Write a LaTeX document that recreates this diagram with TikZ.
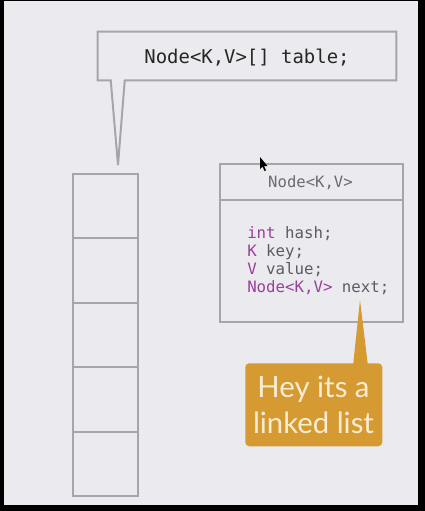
\documentclass[tikz,border=0pt]{standalone}
\usepackage{fontspec}
\setmonofont{DejaVu Sans Mono}
\newfontfamily\callfont{Lato}
\usetikzlibrary{calc}
\definecolor{bg}{HTML}{EBEBEF}
\definecolor{edge}{HTML}{A5A5AA}
\definecolor{kw}{HTML}{9B3F9B}
\definecolor{code}{HTML}{5C5C60}
\definecolor{ochre}{HTML}{D69A32}
\definecolor{cream}{HTML}{FAEDD2}
\tikzset{
  boxline/.style={draw=edge, line width=1.5pt},
  cell/.style={boxline, fill=bg, minimum width=65*0.75pt, minimum height=64.4*0.75pt, inner sep=0pt, anchor=north west},
  codeline/.style={anchor=base west, inner sep=0pt, font=\ttfamily\fontsize{11.8}{13}\selectfont, text=code},
}
\begin{document}
\begin{tikzpicture}[x=0.75pt,y=-0.75pt]
\useasboundingbox (0,0) rectangle (425,511);
\fill[black] (0,0) rectangle (425,511);
\fill[bg] (4,1) rectangle (418,505);
% top callout
\node[inner sep=0pt, minimum width=298*0.75pt, minimum height=48*0.75pt] (tbl) at (247,56) {};
\coordinate (tip) at (118,165);
\draw[boxline, fill=bg, line join=miter] (tbl.north west) -- (tbl.north east) -- (tbl.south east)
  -- ($(tbl.south west)+(27,0)$) -- (tip) -- ($(tbl.south west)+(13,0)$) -- (tbl.south west) -- cycle;
\node[anchor=base, inner sep=0pt, font=\ttfamily\fontsize{14.2}{16}\selectfont, text=black!85] (tbltext) at (247,63) {Node<K,V>[] table;};
% array
\node[cell] (c1) at (72,173) {};
\node[cell] (c2) at (72,237.4) {};
\node[cell] (c3) at (72,301.8) {};
\node[cell] (c4) at (72,366.2) {};
\node[cell] (c5) at (72,430.6) {};
% Node<K,V> class box
\node[boxline, fill=bg, inner sep=0pt, minimum width=183*0.75pt, minimum height=158*0.75pt, anchor=north west] (cls) at (219,163) {};
\coordinate (divl) at (219,200);
\coordinate (divr) at (402,200);
\draw[boxline] (divl) -- (divr);
\node[anchor=base, inner sep=0pt, font=\ttfamily\fontsize{11.7}{13}\selectfont, text=code!90] (clstitle) at (310.5,187) {Node<K,V>};
\node[codeline] (l1) at (247,238) {\textcolor{kw}{int} hash;};
\node[codeline] (l2) at (247,256) {\textcolor{kw}{K} key;};
\node[codeline] (l3) at (247,274) {\textcolor{kw}{V} value;};
\node[codeline] (l4) at (247,292) {\textcolor{kw}{Node<K,V>} next;};
% orange callout
\coordinate (otip) at (360,300);
\fill[ochre] (353,366) -- (otip) -- (368,366) -- cycle;
\node[fill=ochre, rounded corners=4*0.75pt, inner sep=0pt, minimum width=137*0.75pt, minimum height=83*0.75pt, anchor=north west] (hey) at (245,363) {};
\node[anchor=base, inner sep=0pt, font=\callfont\fontsize{22}{26}\selectfont, text=cream] (hey1) at (313.5,397) {Hey its a};
\node[anchor=base, inner sep=0pt, font=\callfont\fontsize{22}{26}\selectfont, text=cream] (hey2) at (313.5,433) {linked list};
% mouse cursor
\fill[black] (260,157) -- (260,169) -- (262.5,166.5) -- (264.5,171) -- (266,170.3) -- (264,166) -- (267.5,166) -- cycle;
\end{tikzpicture}
\end{document}
